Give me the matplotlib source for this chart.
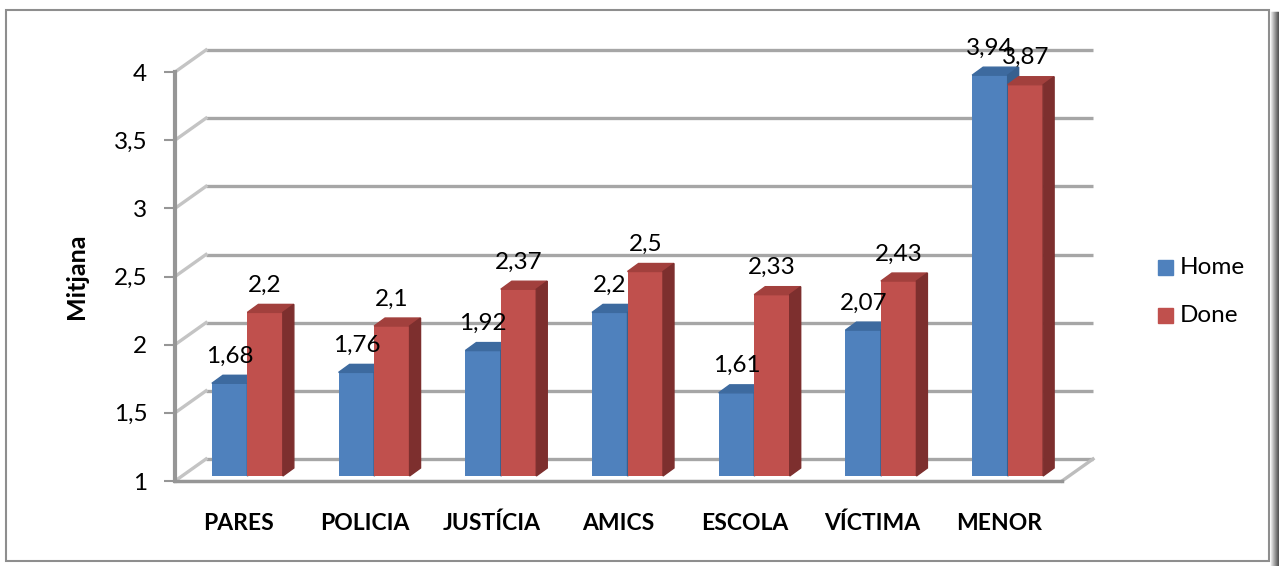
import matplotlib
matplotlib.use('Agg')
import matplotlib.pyplot as plt
from matplotlib.patches import Polygon, Rectangle
import numpy as np

# Data.
categories = ['PARES', 'POLICIA', 'JUSTÍCIA', 'AMICS', 'ESCOLA', 'VÍCTIMA', 'MENOR']
home = [1.68, 1.76, 1.92, 2.2, 1.61, 2.07, 3.94]
done = [2.2, 2.1, 2.37, 2.5, 2.33, 2.43, 3.87]
yticks = [1, 1.5, 2, 2.5, 3, 3.5, 4]

plt.rcParams['font.family'] = ['Lato', 'DejaVu Sans']

W, H = 1279, 566
fig = plt.figure(figsize=(W / 100, H / 100), dpi=100)
ax = fig.add_axes([175 / W, 1 - 481 / H, 887 / W, 409 / H])
ax.set_xlim(-0.5, 6.5)
ax.set_ylim(1, 4)


def dx(p):
    return p / (887 / 7)


def dy(p):
    return p / (409 / 3)


def fmt(v):
    return f'{v:g}'.replace('.', ',')


# 3D offsets (walls, bar depth, bar plane).
wall_dx, wall_dy = dx(31), dy(22)
bar_dx, bar_dy = dx(11), dy(8)
off_x, off_y = dx(9), dy(5)
w = 0.28

# Back wall gridlines, side wall diagonals, floor.
for t in yticks:
    ax.plot([-0.5 + wall_dx, 6.5 + wall_dx], [t + wall_dy] * 2, color='#A6A6A6',
            lw=2.4, zorder=1, clip_on=False, solid_capstyle='butt')
    ax.plot([-0.5, -0.5 + wall_dx], [t, t + wall_dy], color='#C4C4C4',
            lw=2.4, zorder=1, clip_on=False)
ax.plot([6.5, 6.5 + wall_dx], [1, 1 + wall_dy], color='#BDBDBD', lw=2.4,
        zorder=1, clip_on=False)

series = [
    (home, '#4F81BD', '#3D6A9F', '#37608F'),
    (done, '#C0504D', '#A2403D', '#7D2F2E'),
]

for k, (vals, c_front, c_top, c_side) in enumerate(series):
    x = np.arange(len(categories)) + off_x - w / 2 + k * w
    vals = np.array(vals)
    z = 3 + k
    ax.bar(x, vals - 1, bottom=1 + off_y, width=w, color=c_front, zorder=z,
           clip_on=False)
    for xc, v in zip(x, vals):
        x0, x1 = xc - w / 2, xc + w / 2
        y0, y1 = 1 + off_y, v + off_y
        top = [(x0, y1), (x1, y1), (x1 + bar_dx, y1 + bar_dy), (x0 + bar_dx, y1 + bar_dy)]
        side = [(x1, y0), (x1, y1), (x1 + bar_dx, y1 + bar_dy), (x1 + bar_dx, y0 + bar_dy)]
        ax.add_patch(Polygon(top, closed=True, color=c_top, zorder=z + 0.5, clip_on=False))
        ax.add_patch(Polygon(side, closed=True, color=c_side, zorder=z + 0.5, clip_on=False))
        ax.text(xc, y1 + dy(27), fmt(v), ha='center', va='center', fontsize=17.5,
                zorder=10, clip_on=False)

# Front axes.
for s in ['top', 'right']:
    ax.spines[s].set_visible(False)
ax.spines['left'].set_color('#969696')
ax.spines['left'].set_linewidth(3)
ax.spines['bottom'].set_color('#969696')
ax.spines['bottom'].set_linewidth(2.5)
ax.set_facecolor('none')
ax.set_xticks([])
ax.set_yticks(yticks)
ax.set_yticklabels([fmt(t) for t in yticks])
ax.tick_params(axis='y', length=8, width=1.5, color='#969696', pad=12, labelsize=17.5)

for i, cat in enumerate(categories):
    ax.text(i, 1 - dy(42), cat, ha='center', va='center', fontsize=16.5,
            fontweight='bold', clip_on=False)

fig.text(77 / W, 1 - 276 / H, 'Mitjana', rotation=90, ha='center', va='center',
         fontsize=18, fontweight='bold')

# Legend.
for j, (name, col) in enumerate([('Home', '#4F81BD'), ('Done', '#C0504D')]):
    yc = 267 + j * 48
    fig.add_artist(Rectangle((1158 / W, 1 - (yc + 7.5) / H), 15 / W, 15 / H,
                             transform=fig.transFigure, color=col))
    fig.text(1180 / W, 1 - yc / H, name, ha='left', va='center', fontsize=17.5)

# Chart border with shadow.
fig.add_artist(Rectangle((6 / W, 1 - 561 / H), 1263 / W, 551 / H,
                         transform=fig.transFigure, fill=False,
                         edgecolor='#8E8E8E', lw=1.5))
for j in range(8):
    g = 0.9 - j * 0.08
    fig.add_artist(plt.Line2D([(1270.5 + j) / W] * 2, [0, 1 - 12 / H],
                              transform=fig.transFigure, color=(g, g, g), lw=1))

fig.savefig('out.png', dpi=100)
